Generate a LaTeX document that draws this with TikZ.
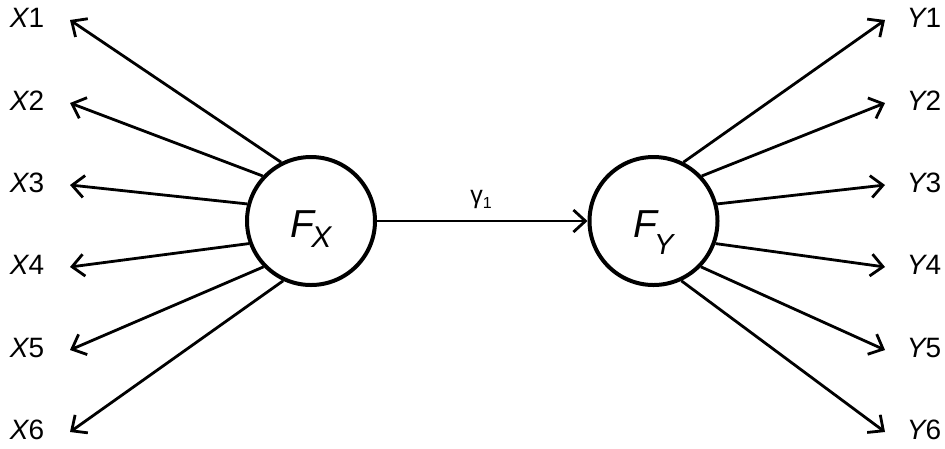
\documentclass[tikz,border=0pt]{standalone}
\usepackage{fontspec}
\setmainfont{Liberation Sans}
\usetikzlibrary{arrows.meta}
\begin{document}
\begin{tikzpicture}[x=1pt,y=-1pt,
  latent/.style={circle,draw,line width=4pt,minimum size=128pt,inner sep=0pt},
  obslabel/.style={font=\fontsize{28}{28}\selectfont,inner sep=0pt,anchor=center},
  bigtext/.style={inner sep=0pt,anchor=base},
  conn/.style={line width=2.8pt,-{Straight Barb[length=12pt,width=22pt]}},
  gammalabel/.style={font=\fontsize{25}{25}\selectfont,inner sep=0pt}]
\useasboundingbox (0,0) rectangle (945,448);
\node[latent] (FX) at (311,221) {};
\node[latent] (FY) at (653.5,221) {};
\node[bigtext] (fxt) at (311,237) {\fontsize{39}{39}\selectfont\itshape F\kern-3pt\raisebox{-10pt}{\fontsize{30}{30}\selectfont X}};
\node[bigtext] (fyt) at (653.5,237) {\fontsize{39}{39}\selectfont\itshape F\kern-3pt\raisebox{-17pt}{\fontsize{29}{29}\selectfont Y}};
% left indicators
\foreach \i/\y/\a in {1/20/117,2/103/137,3/185/165,4/267/200,5/350/224,6/432/245}{
  \coordinate (tx\i) at (70,\y);
  \node[obslabel] (lx\i) at (27,\y-2) {\itshape X\upshape\i};
  \draw[conn] (FX.\a) -- (tx\i);
}
% right indicators
\foreach \i/\y/\a in {1/20/63,2/103/43,3/185/15,4/267/-20,5/350/-44,6/432/-65}{
  \coordinate (ty\i) at (885,\y);
  \node[obslabel] (ly\i) at (924,\y-2) {\itshape Y\upshape\i};
  \draw[conn] (FY.\a) -- (ty\i);
}
\draw[conn] (FX.east) -- (FY.west);
\node[gammalabel] (g1) at (481,199) {γ\raisebox{-5pt}{\fontsize{16}{16}\selectfont 1}};
\end{tikzpicture}
\end{document}
